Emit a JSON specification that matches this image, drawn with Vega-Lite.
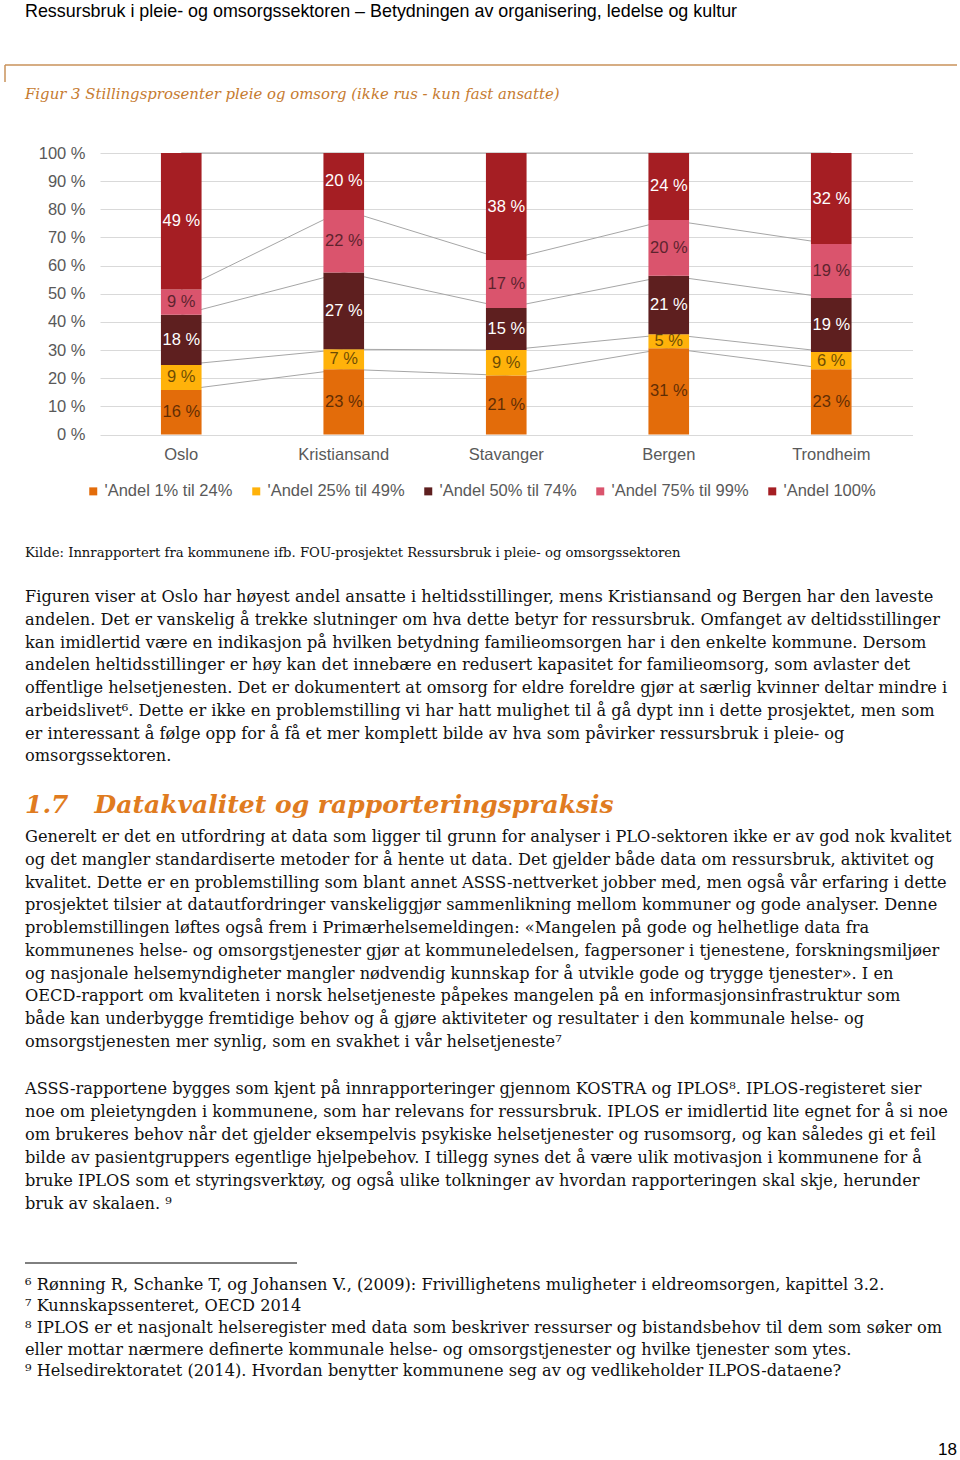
{
  "$schema": "https://vega.github.io/schema/vega-lite/v6.json",
  "background": "white",
  "padding": {"left": 4, "top": 0, "right": 0, "bottom": 0},
  "bounds": "flush",
  "spacing": 0,
  "config": {
    "view": {"stroke": null},
    "axisY": {"values": [0, 0.1, 0.2, 0.3, 0.4, 0.5, 0.6, 0.7, 0.8, 0.9, 1], "labelOverlap": false}
  },
  "resolve": {"scale": {"x": "independent", "y": "independent", "color": "independent", "opacity": "independent"}},
  "vconcat": [
    {
      "width": 857, "height": 65,
      "data": {"values": [{"i": 1, "t": "Ressursbruk i pleie- og omsorgssektoren – Betydningen av organisering, ledelse og kultur"}]},
      "mark": {"type": "text", "align": "left", "baseline": "middle", "font": "Liberation Sans", "fontSize": 17.9, "color": "#000000"},
      "encoding": {
        "x": {"datum": 0, "type": "quantitative", "scale": {"domain": [0, 1], "range": [-75, 857]}, "axis": null},
        "y": {"field": "i", "type": "ordinal", "axis": null, "scale": {"type": "band", "paddingInner": 0, "paddingOuter": 0.913, "align": 0, "round": false}},
        "text": {"field": "t"}
      }
    },
    {
      "width": 857, "height": 17,
      "data": {"values": [{"part": "header-rule"}]},
      "layer": [
        {
          "mark": {"type": "rule", "color": "#C8925A", "strokeWidth": 1.5},
          "encoding": {
            "x": {"datum": 0, "type": "quantitative", "scale": {"domain": [0, 1], "range": [-95, 857]}, "axis": null},
            "x2": {"datum": 1},
            "y": {"datum": 1, "type": "quantitative", "scale": {"domain": [0, 1]}, "axis": null}
          }
        },
        {
          "mark": {"type": "rule", "color": "#C8925A", "strokeWidth": 1.5},
          "encoding": {
            "x": {"datum": 0, "type": "quantitative"},
            "y": {"datum": 0, "type": "quantitative"},
            "y2": {"datum": 1}
          }
        }
      ]
    },
    {
      "width": 857, "height": 70.7,
      "data": {"values": [{"i": 1, "t": "Figur 3 Stillingsprosenter pleie og omsorg (ikke rus - kun fast ansatte)"}]},
      "mark": {"type": "text", "align": "left", "baseline": "middle", "font": "DejaVu Serif", "fontStyle": "italic", "fontSize": 14.9, "color": "#C67B30"},
      "encoding": {
        "x": {"datum": 0, "type": "quantitative", "scale": {"domain": [0, 1], "range": [-75, 857]}, "axis": null},
        "y": {"field": "i", "type": "ordinal", "axis": null, "scale": {"type": "band", "paddingInner": 0, "paddingOuter": 0.8596, "align": 0, "round": false}},
        "text": {"field": "t"}
      }
    },
    {
      "width": 812.5, "height": 281.6,
      "data": {"values": [
        {"city": "Oslo", "series": "'Andel 1% til 24%", "k": 1, "value": 16},
        {"city": "Oslo", "series": "'Andel 25% til 49%", "k": 2, "value": 9},
        {"city": "Oslo", "series": "'Andel 50% til 74%", "k": 3, "value": 18},
        {"city": "Oslo", "series": "'Andel 75% til 99%", "k": 4, "value": 9},
        {"city": "Oslo", "series": "'Andel 100%", "k": 5, "value": 49},
        {"city": "Kristiansand", "series": "'Andel 1% til 24%", "k": 1, "value": 23},
        {"city": "Kristiansand", "series": "'Andel 25% til 49%", "k": 2, "value": 7},
        {"city": "Kristiansand", "series": "'Andel 50% til 74%", "k": 3, "value": 27},
        {"city": "Kristiansand", "series": "'Andel 75% til 99%", "k": 4, "value": 22},
        {"city": "Kristiansand", "series": "'Andel 100%", "k": 5, "value": 20},
        {"city": "Stavanger", "series": "'Andel 1% til 24%", "k": 1, "value": 21},
        {"city": "Stavanger", "series": "'Andel 25% til 49%", "k": 2, "value": 9},
        {"city": "Stavanger", "series": "'Andel 50% til 74%", "k": 3, "value": 15},
        {"city": "Stavanger", "series": "'Andel 75% til 99%", "k": 4, "value": 17},
        {"city": "Stavanger", "series": "'Andel 100%", "k": 5, "value": 38},
        {"city": "Bergen", "series": "'Andel 1% til 24%", "k": 1, "value": 31},
        {"city": "Bergen", "series": "'Andel 25% til 49%", "k": 2, "value": 5},
        {"city": "Bergen", "series": "'Andel 50% til 74%", "k": 3, "value": 21},
        {"city": "Bergen", "series": "'Andel 75% til 99%", "k": 4, "value": 20},
        {"city": "Bergen", "series": "'Andel 100%", "k": 5, "value": 24},
        {"city": "Trondheim", "series": "'Andel 1% til 24%", "k": 1, "value": 23},
        {"city": "Trondheim", "series": "'Andel 25% til 49%", "k": 2, "value": 6},
        {"city": "Trondheim", "series": "'Andel 50% til 74%", "k": 3, "value": 19},
        {"city": "Trondheim", "series": "'Andel 75% til 99%", "k": 4, "value": 19},
        {"city": "Trondheim", "series": "'Andel 100%", "k": 5, "value": 32}
      ]},
      "encoding": {
        "x": {
          "field": "city", "type": "nominal",
          "sort": ["Oslo", "Kristiansand", "Stavanger", "Bergen", "Trondheim"],
          "scale": {"paddingInner": 0.75, "paddingOuter": 0.375},
          "axis": {"title": null, "labelAngle": 0, "ticks": false, "domain": false, "labelPadding": 12, "labelFont": "Liberation Sans", "labelFontSize": 16.5, "labelColor": "#595959"}
        }
      },
      "layer": [
        {
          "transform": [{"stack": "value", "groupby": ["city"], "sort": [{"field": "k", "order": "ascending"}], "offset": "normalize", "as": ["v0", "v1"]}],
          "mark": {"type": "line", "color": "#a6a6a6", "strokeWidth": 1},
          "encoding": {
            "y": {
              "field": "v1", "type": "quantitative",
              "scale": {"domain": [0, 1], "nice": false},
              "axis": {"title": null, "values": [0, 0.1, 0.2, 0.3, 0.4, 0.5, 0.6, 0.7, 0.8, 0.9, 1], "tickCount": 11, "labelExpr": "round(datum.value*100) + ' %'", "labelOverlap": false, "domain": false, "ticks": false, "labelPadding": 15, "labelFont": "Liberation Sans", "labelFontSize": 16.5, "labelColor": "#595959", "gridColor": "#d9d9d9", "minExtent": 95, "maxExtent": 95}
            },
            "detail": {"field": "k", "type": "ordinal"}
          }
        },
        {
          "mark": {"type": "bar"},
          "encoding": {
            "y": {
              "field": "value", "type": "quantitative", "stack": "normalize",
              "axis": {"title": null, "values": [0, 0.1, 0.2, 0.3, 0.4, 0.5, 0.6, 0.7, 0.8, 0.9, 1], "tickCount": 11, "labelExpr": "round(datum.value*100) + ' %'", "labelOverlap": false, "domain": false, "ticks": false, "labelPadding": 15, "labelFont": "Liberation Sans", "labelFontSize": 16.5, "labelColor": "#595959", "gridColor": "#d9d9d9", "minExtent": 95, "maxExtent": 95}
            },
            "color": {
              "field": "series", "type": "nominal",
              "scale": {"domain": ["'Andel 1% til 24%", "'Andel 25% til 49%", "'Andel 50% til 74%", "'Andel 75% til 99%", "'Andel 100%"], "range": ["#E36C0A", "#FFB20A", "#5E1F1F", "#DA546D", "#A51E23"]},
              "legend": {"title": null, "orient": "none", "legendX": -15, "legendY": 330, "direction": "horizontal", "symbolType": "square", "symbolSize": 64, "symbolStrokeWidth": 0, "labelFont": "Liberation Sans", "labelFontSize": 16.5, "labelColor": "#595959", "columnPadding": 15, "labelOffset": 3, "padding": 0, "labelLimit": 300}
            },
            "order": {"field": "k", "type": "quantitative"}
          }
        },
        {
          "mark": {"type": "text", "font": "Liberation Sans", "fontSize": 16.5, "baseline": "middle", "text": {"expr": "datum.value + ' %'"}},
          "encoding": {
            "y": {
              "field": "value", "type": "quantitative", "stack": "normalize", "bandPosition": 0.5,
              "axis": {"title": null, "values": [0, 0.1, 0.2, 0.3, 0.4, 0.5, 0.6, 0.7, 0.8, 0.9, 1], "tickCount": 11, "labelExpr": "round(datum.value*100) + ' %'", "labelOverlap": false, "domain": false, "ticks": false, "labelPadding": 15, "labelFont": "Liberation Sans", "labelFontSize": 16.5, "labelColor": "#595959", "gridColor": "#d9d9d9", "minExtent": 95, "maxExtent": 95}
            },
            "detail": {"field": "k", "type": "ordinal"},
            "order": {"field": "k", "type": "quantitative"},
            "color": {"condition": {"test": "datum.k == 3 || datum.k == 5", "value": "#ffffff"}, "value": "#000000"},
            "opacity": {"condition": {"test": "datum.k == 3 || datum.k == 5", "value": 1}, "value": 0.58}
          }
        }
      ]
    },
    {
      "width": 857, "height": 150.35,
      "data": {"values": [{"i": 1, "t": "Kilde: Innrapportert fra kommunene ifb. FOU-prosjektet Ressursbruk i pleie- og omsorgssektoren"}]},
      "mark": {"type": "text", "align": "left", "baseline": "middle", "font": "DejaVu Serif", "fontSize": 13.2, "color": "#111111"},
      "encoding": {
        "x": {"datum": 0, "type": "quantitative", "scale": {"domain": [0, 1], "range": [-75, 857]}, "axis": null},
        "y": {"field": "i", "type": "ordinal", "axis": null, "scale": {"type": "band", "paddingInner": 0, "paddingOuter": 0.6512, "align": 1, "round": false}},
        "text": {"field": "t"}
      }
    },
    {
      "width": 857, "height": 181.6,
      "data": {"values": [
        {"i": 1, "t": "Figuren viser at Oslo har høyest andel ansatte i heltidsstillinger, mens Kristiansand og Bergen har den laveste"},
        {"i": 2, "t": "andelen. Det er vanskelig å trekke slutninger om hva dette betyr for ressursbruk. Omfanget av deltidsstillinger"},
        {"i": 3, "t": "kan imidlertid være en indikasjon på hvilken betydning familieomsorgen har i den enkelte kommune. Dersom"},
        {"i": 4, "t": "andelen heltidsstillinger er høy kan det innebære en redusert kapasitet for familieomsorg, som avlaster det"},
        {"i": 5, "t": "offentlige helsetjenesten. Det er dokumentert at omsorg for eldre foreldre gjør at særlig kvinner deltar mindre i"},
        {"i": 6, "t": "arbeidslivet⁶. Dette er ikke en problemstilling vi har hatt mulighet til å gå dypt inn i dette prosjektet, men som"},
        {"i": 7, "t": "er interessant å følge opp for å få et mer komplett bilde av hva som påvirker ressursbruk i pleie- og"},
        {"i": 8, "t": "omsorgssektoren."}
      ]},
      "mark": {"type": "text", "align": "left", "baseline": "middle", "font": "DejaVu Serif", "fontSize": 16.2, "color": "#111111"},
      "encoding": {
        "x": {"datum": 0, "type": "quantitative", "scale": {"domain": [0, 1], "range": [-75, 857]}, "axis": null},
        "y": {"field": "i", "type": "ordinal", "axis": null, "scale": {"type": "band", "paddingInner": 0, "paddingOuter": 0, "align": 0, "round": false}},
        "text": {"field": "t"}
      }
    },
    {
      "width": 857, "height": 57.4,
      "data": {"values": [{"i": 1, "t": "1.7\u00a0\u00a0\u00a0Datakvalitet og rapporteringspraksis"}]},
      "mark": {"type": "text", "align": "left", "baseline": "middle", "font": "DejaVu Serif", "fontStyle": "italic", "fontWeight": "bold", "fontSize": 25, "color": "#E07B20"},
      "encoding": {
        "x": {"datum": 0, "type": "quantitative", "scale": {"domain": [0, 1], "range": [-75, 857]}, "axis": null},
        "y": {"field": "i", "type": "ordinal", "axis": null, "scale": {"type": "band", "paddingInner": 0, "paddingOuter": 0.4567, "align": 0.819, "round": false}},
        "text": {"field": "t"}
      }
    },
    {
      "width": 857, "height": 251,
      "data": {"values": [
        {"i": 1, "t": "Generelt er det en utfordring at data som ligger til grunn for analyser i PLO-sektoren ikke er av god nok kvalitet"},
        {"i": 2, "t": "og det mangler standardiserte metoder for å hente ut data. Det gjelder både data om ressursbruk, aktivitet og"},
        {"i": 3, "t": "kvalitet. Dette er en problemstilling som blant annet ASSS-nettverket jobber med, men også vår erfaring i dette"},
        {"i": 4, "t": "prosjektet tilsier at datautfordringer vanskeliggjør sammenlikning mellom kommuner og gode analyser. Denne"},
        {"i": 5, "t": "problemstillingen løftes også frem i Primærhelsemeldingen: «Mangelen på gode og helhetlige data fra"},
        {"i": 6, "t": "kommunenes helse- og omsorgstjenester gjør at kommuneledelsen, fagpersoner i tjenestene, forskningsmiljøer"},
        {"i": 7, "t": "og nasjonale helsemyndigheter mangler nødvendig kunnskap for å utvikle gode og trygge tjenester». I en"},
        {"i": 8, "t": "OECD-rapport om kvaliteten i norsk helsetjeneste påpekes mangelen på en informasjonsinfrastruktur som"},
        {"i": 9, "t": "både kan underbygge fremtidige behov og å gjøre aktiviteter og resultater i den kommunale helse- og"},
        {"i": 10, "t": "omsorgstjenesten mer synlig, som en svakhet i vår helsetjeneste⁷"}
      ]},
      "mark": {"type": "text", "align": "left", "baseline": "middle", "font": "DejaVu Serif", "fontSize": 16.2, "color": "#111111"},
      "encoding": {
        "x": {"datum": 0, "type": "quantitative", "scale": {"domain": [0, 1], "range": [-75, 857]}, "axis": null},
        "y": {"field": "i", "type": "ordinal", "axis": null, "scale": {"type": "band", "paddingInner": 0, "paddingOuter": 0.5286, "align": 0, "round": false}},
        "text": {"field": "t"}
      }
    },
    {
      "width": 857, "height": 185.35,
      "data": {"values": [
        {"i": 1, "t": "ASSS-rapportene bygges som kjent på innrapporteringer gjennom KOSTRA og IPLOS⁸. IPLOS-registeret sier"},
        {"i": 2, "t": "noe om pleietyngden i kommunene, som har relevans for ressursbruk. IPLOS er imidlertid lite egnet for å si noe"},
        {"i": 3, "t": "om brukeres behov når det gjelder eksempelvis psykiske helsetjenester og rusomsorg, og kan således gi et feil"},
        {"i": 4, "t": "bilde av pasientgruppers egentlige hjelpebehov. I tillegg synes det å være ulik motivasjon i kommunene for å"},
        {"i": 5, "t": "bruke IPLOS som et styringsverktøy, og også ulike tolkninger av hvordan rapporteringen skal skje, herunder"},
        {"i": 6, "t": "bruk av skalaen. ⁹"}
      ]},
      "mark": {"type": "text", "align": "left", "baseline": "middle", "font": "DejaVu Serif", "fontSize": 16.2, "color": "#111111"},
      "encoding": {
        "x": {"datum": 0, "type": "quantitative", "scale": {"domain": [0, 1], "range": [-75, 857]}, "axis": null},
        "y": {"field": "i", "type": "ordinal", "axis": null, "scale": {"type": "band", "paddingInner": 0, "paddingOuter": 1.0826, "align": 0, "round": false}},
        "text": {"field": "t"}
      }
    },
    {
      "width": 857, "height": 10.875,
      "data": {"values": [{"part": "footnote-rule"}]},
      "mark": {"type": "rule", "color": "#000000", "strokeWidth": 1},
      "encoding": {
        "x": {"datum": 0, "type": "quantitative", "scale": {"domain": [0, 1], "range": [-75, 197]}, "axis": null},
        "x2": {"datum": 1},
        "y": {"datum": 1, "type": "quantitative", "scale": {"domain": [0, 1]}, "axis": null}
      }
    },
    {
      "width": 857, "height": 108.25,
      "data": {"values": [
        {"i": 1, "t": "⁶ Rønning R, Schanke T, og Johansen V., (2009): Frivillighetens muligheter i eldreomsorgen, kapittel 3.2."},
        {"i": 2, "t": "⁷ Kunnskapssenteret, OECD 2014"},
        {"i": 3, "t": "⁸ IPLOS er et nasjonalt helseregister med data som beskriver ressurser og bistandsbehov til dem som søker om"},
        {"i": 4, "t": "eller mottar nærmere definerte kommunale helse- og omsorgstjenester og hvilke tjenester som ytes."},
        {"i": 5, "t": "⁹ Helsedirektoratet (2014). Hvordan benytter kommunene seg av og vedlikeholder ILPOS-dataene?"}
      ]},
      "mark": {"type": "text", "align": "left", "baseline": "middle", "font": "DejaVu Serif", "fontSize": 16.2, "color": "#111111"},
      "encoding": {
        "x": {"datum": 0, "type": "quantitative", "scale": {"domain": [0, 1], "range": [-75, 857]}, "axis": null},
        "y": {"field": "i", "type": "ordinal", "axis": null, "scale": {"type": "band", "paddingInner": 0, "paddingOuter": 0, "align": 0, "round": false}},
        "text": {"field": "t"}
      }
    },
    {
      "width": 857, "height": 80,
      "data": {"values": [{"i": 1, "t": "18"}]},
      "mark": {"type": "text", "align": "right", "baseline": "middle", "font": "Liberation Sans", "fontSize": 17, "color": "#000000"},
      "encoding": {
        "x": {"datum": 1, "type": "quantitative", "scale": {"domain": [0, 1], "range": [-75, 857]}, "axis": null},
        "y": {"field": "i", "type": "ordinal", "axis": null, "scale": {"type": "band", "paddingInner": 0, "paddingOuter": 2, "align": 0.998, "round": false}},
        "text": {"field": "t"}
      }
    }
  ]
}
